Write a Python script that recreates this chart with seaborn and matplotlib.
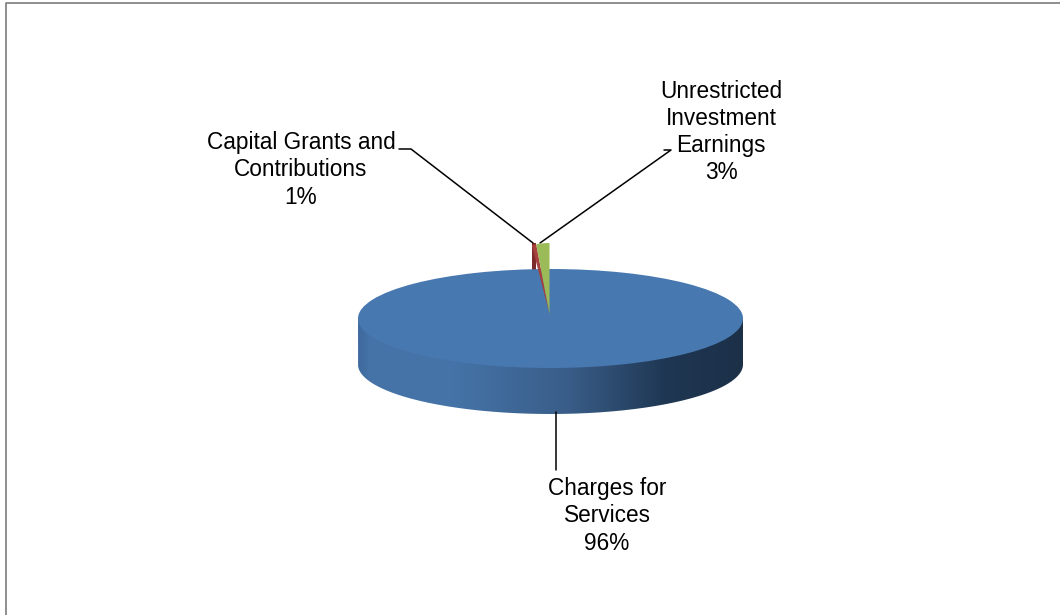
import numpy as np
import matplotlib
matplotlib.use("Agg")
import matplotlib.pyplot as plt
from matplotlib.colors import LinearSegmentedColormap
from matplotlib.path import Path
from matplotlib.patches import PathPatch
import seaborn as sns

# Datos
categorias = ["Charges for\nServices", "Capital Grants and\nContributions", "Unrestricted\nInvestment\nEarnings"]
valores = [96, 1, 3]
colores = ["#4878b0", "#a5403c", "#9bbb59"]

W, H = 1060, 615

sns.set_theme(style="white")
plt.rcParams["font.family"] = ["Liberation Sans", "DejaVu Sans"]

fig = plt.figure(figsize=(W / 100, H / 100), dpi=100)
fig.patch.set_facecolor("white")


def eje_pixeles(cx, cy, rx, ry, z):
    a = fig.add_axes([(cx - rx) / W, 1 - (cy + ry) / H, 2 * rx / W, 2 * ry / H], zorder=z)
    a.patch.set_alpha(0)
    return a


# Fondo en coordenadas de pixel
ax = fig.add_axes([0, 0, 1, 1], zorder=1)
ax.set_xlim(0, W)
ax.set_ylim(H, 0)
ax.axis("off")

# Marco (solo izquierda y arriba)
ax.plot([5.5, 5.5, W], [H, 2.5, 2.5], color="#868686", lw=1.3)

# Lateral del disco con degradado
cx, cy, rx, ry, fondo = 550.5, 318.5, 192.5, 49.5, 46
t = np.linspace(np.pi, 0, 200)
xs = cx + rx * np.cos(t)
ys = cy + ry * np.sin(t) + fondo
verts = np.vstack([[[cx - rx, cy]], np.column_stack([xs, ys]), [[cx + rx, cy]], [[cx - rx, cy]]])
camino = Path(verts)
cmap = LinearSegmentedColormap.from_list(
    "lateral",
    [(0, "#3f6a9d"), (0.03, "#4674a9"), (0.25, "#4573a7"), (0.55, "#395d88"), (0.8, "#1f3753"), (1, "#1c3048")],
)
grad = np.linspace(0, 1, 400).reshape(1, -1)
im = ax.imshow(grad, cmap=cmap, extent=[cx - rx, cx + rx, cy + ry + fondo, cy], aspect="auto", zorder=1)
clip = PathPatch(camino, transform=ax.transData, facecolor="none", edgecolor="none")
ax.add_patch(clip)
im.set_clip_path(clip)
ax.set_xlim(0, W)
ax.set_ylim(H, 0)

# Cara superior
ax_cara = eje_pixeles(cx, cy, rx, ry, 2)
ax_cara.pie([valores[0]], colors=[colores[0]], radius=1, wedgeprops={"linewidth": 0})
ax_cara.set_aspect("auto")
ax_cara.set_xlim(-1, 1)
ax_cara.set_ylim(-1, 1)

# Porciones pequenas
sx, sy, sr = 549.5, 314, 71
ang_rojo = np.deg2rad(3.6 * (valores[1] + valores[2]))
ang_verde = np.deg2rad(3.6 * valores[2])
ax.fill_between(
    [sx - sr * np.sin(ang_rojo), sx - sr * np.sin(ang_verde)], 243, 271, color="#7b2b29", linewidth=0, zorder=2
)
ax_trozos = eje_pixeles(sx, sy, sr, sr, 3)
trozos, _ = ax_trozos.pie(valores, colors=colores, startangle=90, counterclock=False, radius=1,
                          wedgeprops={"linewidth": 0})
trozos[0].set_visible(False)
ax_trozos.set_aspect("auto")
ax_trozos.set_xlim(-1, 1)
ax_trozos.set_ylim(-1, 1)

# Lineas guia
lineas = [
    ([556, 556], [412, 470]),
    ([399, 411, 533], [149, 149, 243]),
    ([664, 671, 540], [150, 150, 243]),
]
for lx, ly in lineas:
    ax.plot(lx, ly, color="black", lw=1.1, zorder=3)

# Etiquetas
posiciones = [(607, 516), (301, 170), (721, 132)]
for nombre, v, (tx, ty) in zip(categorias, valores, posiciones):
    ax.text(tx, ty, f"{nombre}\n{v}%", ha="center", va="center", fontsize=16.3, color="black", linespacing=1.23)

plt.savefig("out.png", dpi=100)
